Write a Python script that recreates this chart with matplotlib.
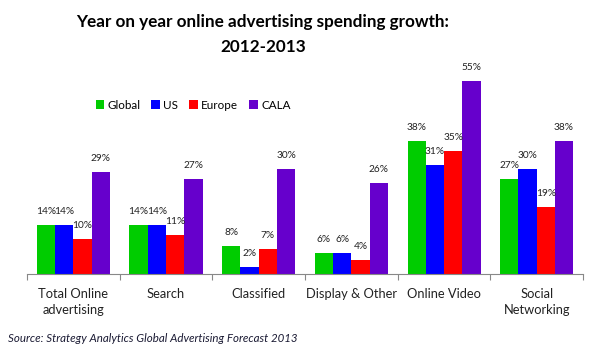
import numpy as np
import matplotlib.pyplot as plt

categories = ['Total Online\nadvertising', 'Search', 'Classified',
              'Display & Other', 'Online Video', 'Social\nNetworking']
series = ['Global', 'US', 'Europe', 'CALA']
global_vals = [14, 14, 8, 6, 38, 27]
us_vals = [14, 14, 2, 6, 31, 30]
europe_vals = [10, 11, 7, 4, 35, 19]
cala_vals = [29, 27, 30, 26, 55, 38]
colors = ['#00cc00', '#0000ff', '#ff0000', '#6600cc']

plt.rcParams['font.family'] = ['Lato', 'DejaVu Sans']

fig = plt.figure(figsize=(6.11, 3.55), dpi=100)
ax = fig.add_axes([0.0442, 0.228, 0.910, 0.593])

x = np.arange(len(categories))
w = 0.197
data = [global_vals, us_vals, europe_vals, cala_vals]
for i, (vals, name, c) in enumerate(zip(data, series, colors)):
    pos = x + (i - 1.5) * w
    ax.bar(pos, vals, w, color=c, label=name)
    for p, v in zip(pos, vals):
        ax.annotate(f'{v}%', (p, v), xytext=(0, 6.5), textcoords='offset points',
                    ha='center', va='bottom', fontsize=7.3, color='#222222')

ax.set_xlim(-0.5, len(categories) - 0.5)
ax.set_ylim(0, 60)
for s in ['top', 'right', 'left']:
    ax.spines[s].set_visible(False)
ax.spines['bottom'].set_color('#888888')
ax.set_yticks([])
ax.set_xticks(np.arange(len(categories) + 1) - 0.5)
ax.set_xticklabels([])
ax.tick_params(axis='x', direction='out', length=4, color='#888888')
for xi, c in zip(x, categories):
    ax.text(xi, -4.0, c, ha='center', va='top', fontsize=9.3, color='#222222',
            linespacing=1.4)

fig.text(263 / 611, 1 - 27 / 355, 'Year on year online advertising spending growth:',
         ha='center', va='baseline', fontsize=12.3, fontweight='bold')
fig.text(263 / 611, 1 - 52 / 355, '2012-2013',
         ha='center', va='baseline', fontsize=12.3, fontweight='bold')

ax.legend(loc='center left', bbox_to_anchor=(85 / 611, 1 - 105 / 355),
          bbox_transform=fig.transFigure, ncol=4, frameon=False,
          fontsize=8.4, handlelength=0.75, handleheight=0.75, handletextpad=0.3,
          columnspacing=0.9)

fig.text(8 / 611, 1 - 342 / 355, 'Source: Strategy Analytics Global Advertising Forecast 2013',
         ha='left', va='baseline', fontsize=8.3, style='italic', color='#1a1a33')

fig.savefig('out.png', dpi=100)
